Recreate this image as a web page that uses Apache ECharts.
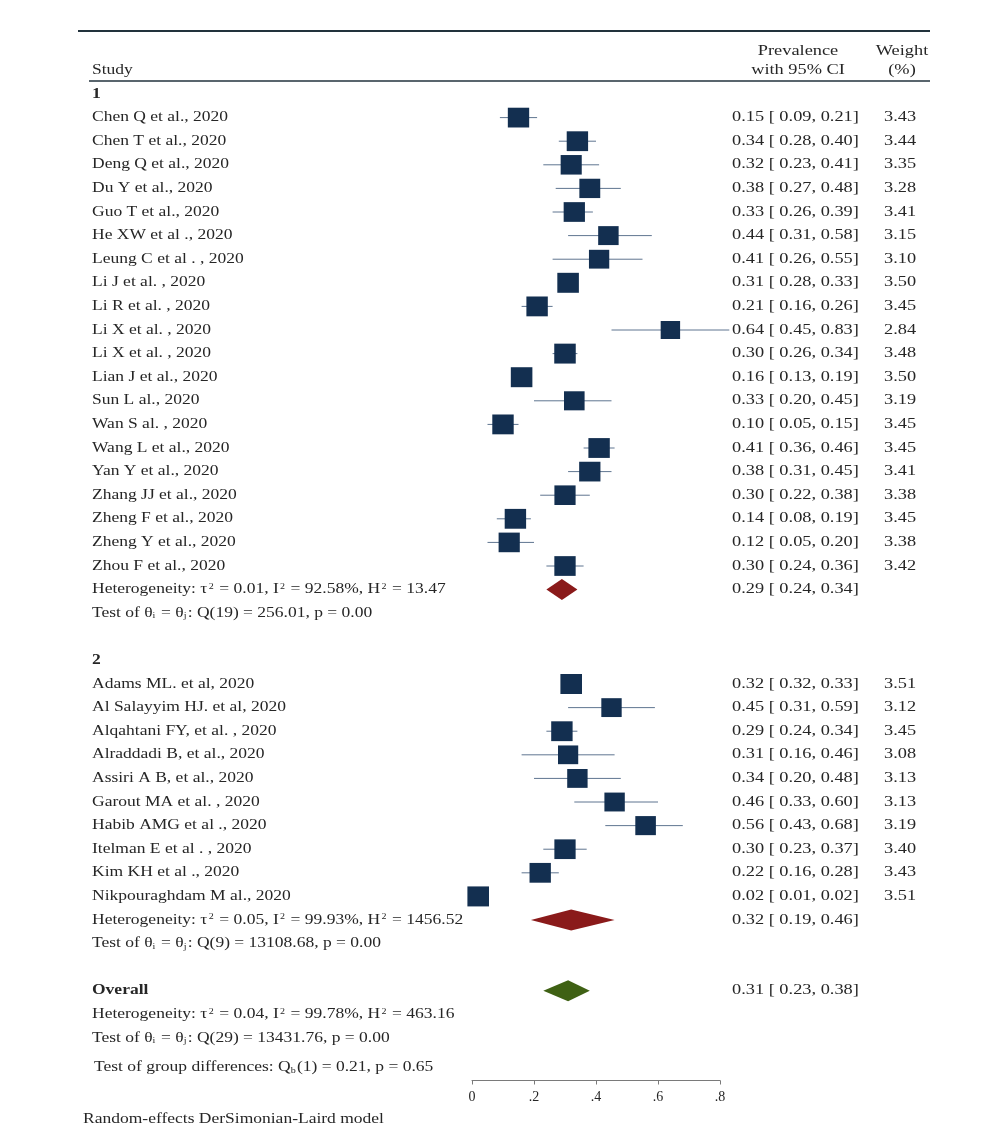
<!DOCTYPE html>
<html><head><meta charset="utf-8">
<script src="https://cdn.jsdelivr.net/npm/echarts@6/dist/echarts.min.js"></script>
<style>html,body{margin:0;padding:0;background:#fff}#c{width:1000px;height:1126px}</style>
</head><body><div id="c"></div>
<script>
// ---------------- DATA ----------------
const group1Studies = ['Chen Q et al., 2020','Chen T et al., 2020','Deng Q et al., 2020','Du Y et al., 2020','Guo T et al., 2020','He XW et al ., 2020','Leung C et al . , 2020','Li J et al. , 2020','Li R et al. , 2020','Li X et al. , 2020','Li X et al. , 2020','Lian J et al., 2020','Sun L al., 2020','Wan S al. , 2020','Wang L et al., 2020','Yan Y et al., 2020','Zhang JJ et al., 2020','Zheng F et al., 2020','Zheng Y et al., 2020','Zhou F et al., 2020'];
const group1Est = [0.15,0.34,0.32,0.38,0.33,0.44,0.41,0.31,0.21,0.64,0.30,0.16,0.33,0.10,0.41,0.38,0.30,0.14,0.12,0.30];
const group1Lo  = [0.09,0.28,0.23,0.27,0.26,0.31,0.26,0.28,0.16,0.45,0.26,0.13,0.20,0.05,0.36,0.31,0.22,0.08,0.05,0.24];
const group1Hi  = [0.21,0.40,0.41,0.48,0.39,0.58,0.55,0.33,0.26,0.83,0.34,0.19,0.45,0.15,0.46,0.45,0.38,0.19,0.20,0.36];
const group1Weight = [3.43,3.44,3.35,3.28,3.41,3.15,3.10,3.50,3.45,2.84,3.48,3.50,3.19,3.45,3.45,3.41,3.38,3.45,3.38,3.42];

const group2Studies = ['Adams ML. et al, 2020','Al Salayyim HJ. et al, 2020','Alqahtani FY, et al. , 2020','Alraddadi B, et al., 2020','Assiri A B, et al., 2020','Garout MA et al. , 2020','Habib AMG et al ., 2020','Itelman E et al . , 2020','Kim KH et al ., 2020','Nikpouraghdam M al., 2020'];
const group2Est = [0.32,0.45,0.29,0.31,0.34,0.46,0.56,0.30,0.22,0.02];
const group2Lo  = [0.32,0.31,0.24,0.16,0.20,0.33,0.43,0.23,0.16,0.01];
const group2Hi  = [0.33,0.59,0.34,0.46,0.48,0.60,0.68,0.37,0.28,0.02];
const group2Weight = [3.51,3.12,3.45,3.08,3.13,3.13,3.19,3.40,3.43,3.51];

const groupLabels = ['1','2'];
const pooledLabels = ['Group 1','Group 2','Overall'];
const pooledEst = [0.29,0.32,0.31];
const pooledLo  = [0.24,0.19,0.23];
const pooledHi  = [0.34,0.46,0.38];

const group1Stats = ['{t|Heterogeneity: τ}{sp|2}{t| = 0.01, I}{sp|2}{t| = 92.58%, H}{sp|2}{t| = 13.47}',
                     '{t|Test of θ}{sb|i}{t| = θ}{sb|j}{t|: Q(19) = 256.01, p = 0.00}'];
const group2Stats = ['{t|Heterogeneity: τ}{sp|2}{t| = 0.05, I}{sp|2}{t| = 99.93%, H}{sp|2}{t| = 1456.52}',
                     '{t|Test of θ}{sb|i}{t| = θ}{sb|j}{t|: Q(9) = 13108.68, p = 0.00}'];
const overallStats = ['{t|Heterogeneity: τ}{sp|2}{t| = 0.04, I}{sp|2}{t| = 99.78%, H}{sp|2}{t| = 463.16}',
                      '{t|Test of θ}{sb|i}{t| = θ}{sb|j}{t|: Q(29) = 13431.76, p = 0.00}'];
const groupDiffStat = '{t|Test of group differences: Q}{sb|b}{t|(1) = 0.21, p = 0.65}';
const footerNote = 'Random-effects DerSimonian-Laird model';
const headerStudy = 'Study';
const headerCI = ['Prevalence', 'with 95% CI'];
const headerWeight = ['Weight', '(%)'];

const xTicks = [0, 0.2, 0.4, 0.6, 0.8];
const xTickLabels = ['0', '.2', '.4', '.6', '.8'];

// ---------------- LAYOUT / STYLE ----------------
const FONT = '"Liberation Serif", "Times New Roman", serif';
const FS = 14, SX_L = 1.25, SX_R = 1.31;
const TXT = '#262626';
const COL_LABEL = 92, COL_CI = 732, COL_W = 884, COL_CI_C = 798, COL_W_C = 902, COL_FOOT = 83, COL_DIFF = 94;
const SQ_COLOR = '#132f50', CI_COLOR = '#5f7590';
const DIAMOND_COLORS = ['#8a1a1a', '#8a1a1a', '#3f6114'];
const DIAMOND_HALF = 10.5;

// row layout (row units on hidden y axis)
const n1 = group1Studies.length, n2 = group2Studies.length;
const rG1 = 0;
const rows1 = group1Studies.map((_, i) => rG1 + 1 + i);
const rHet1 = rG1 + n1 + 1, rTest1 = rHet1 + 1;
const rG2 = rTest1 + 2;
const rows2 = group2Studies.map((_, i) => rG2 + 1 + i);
const rHet2 = rG2 + n2 + 1, rTest2 = rHet2 + 1;
const rOverall = rTest2 + 2, rHetO = rOverall + 1, rTestO = rHetO + 1, rDiff = rTestO + 1.25;
const rFoot = rTestO + 3.45;
const rHeadTop = -1.8, rHeadBot = -1.0;

const fmt = v => v.toFixed(2);
const ciText = (e, l, h) => `${fmt(e)} [ ${fmt(l)}, ${fmt(h)}]`;

// studies table
const studies = [];
group1Studies.forEach((s, i) => studies.push({ name: s, est: group1Est[i], lo: group1Lo[i], hi: group1Hi[i], w: group1Weight[i], row: rows1[i] }));
group2Studies.forEach((s, i) => studies.push({ name: s, est: group2Est[i], lo: group2Lo[i], hi: group2Hi[i], w: group2Weight[i], row: rows2[i] }));
const pooledRows = [rHet1, rHet2, rOverall];

// texts
const texts = [];
const rich = {
  t: { fontFamily: FONT, fontSize: FS, color: TXT },
  sp: { fontFamily: FONT, fontSize: 8, color: TXT, verticalAlign: 'top', padding: [0, 1, 0, 1] },
  sb: { fontFamily: FONT, fontSize: 8, color: TXT, verticalAlign: 'bottom', padding: [0, 1, 0, 0] }
};
texts.push({ text: headerStudy, row: rHeadBot, x: COL_LABEL, align: 'left' });
texts.push({ text: headerCI[0], row: rHeadTop, x: COL_CI_C, align: 'center', sx: SX_R });
texts.push({ text: headerCI[1], row: rHeadBot, x: COL_CI_C, align: 'center', sx: SX_R });
texts.push({ text: headerWeight[0], row: rHeadTop, x: COL_W_C, align: 'center', sx: SX_R });
texts.push({ text: headerWeight[1], row: rHeadBot, x: COL_W_C, align: 'center', sx: SX_R });
texts.push({ text: groupLabels[0], row: rG1, x: COL_LABEL, bold: true });
texts.push({ text: groupLabels[1], row: rG2, x: COL_LABEL, bold: true });
studies.forEach(s => {
  texts.push({ text: s.name, row: s.row, x: COL_LABEL });
  texts.push({ text: ciText(s.est, s.lo, s.hi), row: s.row, x: COL_CI, sx: SX_R });
  texts.push({ text: fmt(s.w), row: s.row, x: COL_W, sx: SX_R });
});
texts.push({ text: group1Stats[0], row: rHet1, x: COL_LABEL, rich: true });
texts.push({ text: group1Stats[1], row: rTest1, x: COL_LABEL, rich: true });
texts.push({ text: group2Stats[0], row: rHet2, x: COL_LABEL, rich: true });
texts.push({ text: group2Stats[1], row: rTest2, x: COL_LABEL, rich: true });
texts.push({ text: 'Overall', row: rOverall, x: COL_LABEL, bold: true });
texts.push({ text: overallStats[0], row: rHetO, x: COL_LABEL, rich: true });
texts.push({ text: overallStats[1], row: rTestO, x: COL_LABEL, rich: true });
texts.push({ text: groupDiffStat, row: rDiff, x: COL_DIFF, rich: true });
texts.push({ text: footerNote, row: rFoot, x: COL_FOOT });
pooledEst.forEach((e, i) => texts.push({ text: ciText(e, pooledLo[i], pooledHi[i]), row: pooledRows[i], x: COL_CI, sx: SX_R }));

const chart = echarts.init(document.getElementById('c'), null, { renderer: 'canvas' });
chart.setOption({
  animation: false,
  backgroundColor: '#fff',
  grid: { left: 472, right: 280, top: 70.4, bottom: 45.5, containLabel: false, outerBoundsMode: 'none' },
  xAxis: {
    type: 'value', min: 0, max: 0.8, interval: 0.2, position: 'bottom',
    axisLine: { show: true, onZero: false, lineStyle: { color: '#7a7a7a', width: 1 } },
    axisTick: { show: true, length: 4, lineStyle: { color: '#7a7a7a' } },
    splitLine: { show: false },
    axisLabel: {
      margin: 10, fontFamily: FONT, fontSize: 14, color: TXT,
      formatter: v => { const k = xTicks.findIndex(t => Math.abs(t - v) < 1e-9); return k >= 0 ? xTickLabels[k] : ''; }
    }
  },
  yAxis: { type: 'value', inverse: true, min: -1, max: 41.8, show: false },
  graphic: [
    { type: 'line', shape: { x1: 78, y1: 31, x2: 930, y2: 31 }, style: { stroke: '#22323c', lineWidth: 2 } },
    { type: 'line', shape: { x1: 89, y1: 81, x2: 930, y2: 81 }, style: { stroke: '#22323c', lineWidth: 1.5 } }
  ],
  series: [
    {
      type: 'custom', name: 'ci', clip: false, z: 2,
      data: studies.map(s => [s.lo, s.row, s.hi]),
      renderItem: (p, api) => {
        const a = api.coord([api.value(0), api.value(1)]);
        const b = api.coord([api.value(2), api.value(1)]);
        return { type: 'line', shape: { x1: a[0], y1: a[1], x2: b[0], y2: b[1] }, style: { stroke: CI_COLOR, lineWidth: 1 } };
      }
    },
    {
      type: 'scatter', name: 'studies', clip: false, z: 3,
      symbol: 'rect',
      symbolSize: v => { const s = 20 * Math.sqrt(v[2] / 3.51); return [s * 1.08, s]; },
      itemStyle: { color: SQ_COLOR, opacity: 1 },
      data: studies.map(s => [s.est, s.row, s.w])
    },
    {
      type: 'custom', name: 'pooled', clip: false, z: 3,
      data: pooledEst.map((e, i) => [e, pooledRows[i], pooledLo[i], pooledHi[i], i]),
      renderItem: (p, api) => {
        const r = api.value(1);
        const c = api.coord([api.value(0), r]);
        const l = api.coord([api.value(2), r]);
        const h = api.coord([api.value(3), r]);
        return { type: 'polygon', shape: { points: [l, [c[0], c[1] - DIAMOND_HALF], h, [c[0], c[1] + DIAMOND_HALF]] },
                 style: { fill: DIAMOND_COLORS[api.value(4)] } };
      }
    },
    {
      type: 'custom', name: 'texts', clip: false, z: 4, silent: true,
      data: texts.map((t, i) => [0, t.row, i]),
      renderItem: (p, api) => {
        const t = texts[api.value(2)];
        const y = api.coord([0, api.value(1)])[1];
        const style = { text: t.text, x: 0, y: 0, align: t.align || 'left', verticalAlign: 'middle',
                        fontFamily: FONT, fontSize: FS, fontWeight: t.bold ? 'bold' : 'normal', fill: TXT };
        if (t.rich) style.rich = rich;
        return { type: 'text', x: t.x, y: y, scaleX: t.sx || SX_L, scaleY: 1, style: style };
      }
    }
  ]
});
</script>
</body></html>
